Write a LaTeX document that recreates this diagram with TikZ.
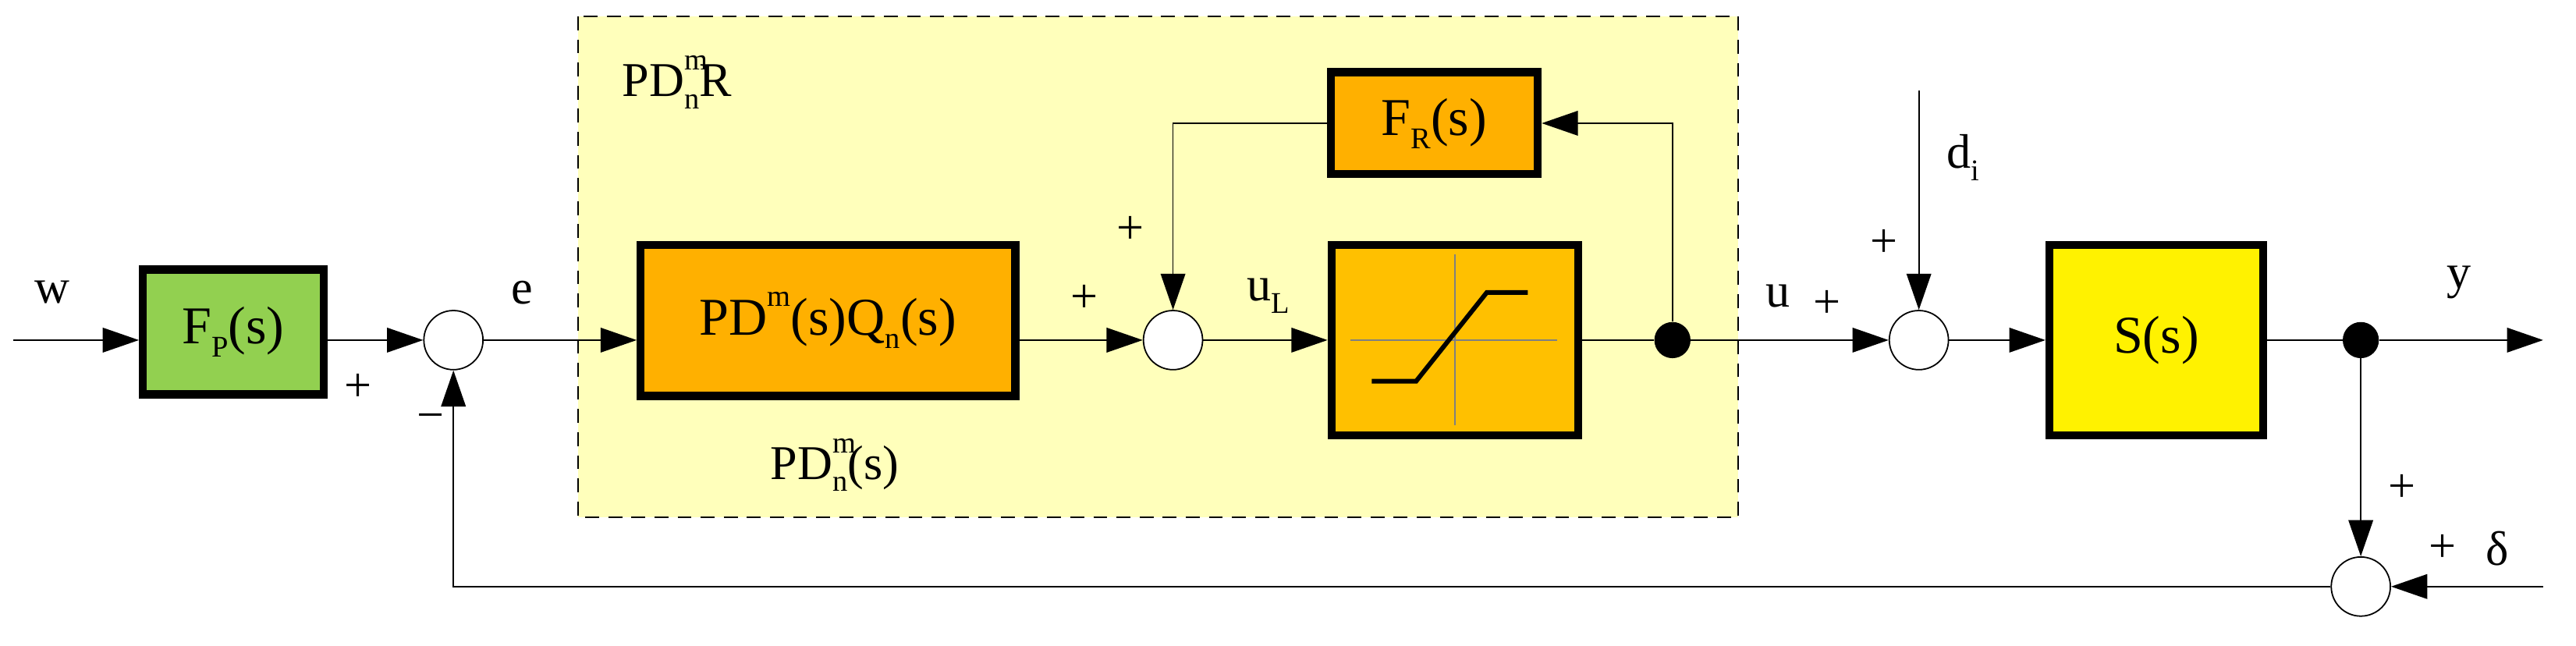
\documentclass[tikz,border=0pt]{standalone}
\usepackage{fontspec}
\setmainfont{Liberation Serif}
\usetikzlibrary{arrows.meta}
\newcommand{\smallidx}[1]{{\fontsize{26}{28}\selectfont #1}}
\newcommand{\myup}[1]{\raisebox{0.55em}{\smallidx{#1}}}
\newcommand{\mydn}[1]{\raisebox{-0.25em}{\smallidx{#1}}}
\newcommand{\subsup}[2]{\rlap{\myup{#2}}\mydn{#1}}
\begin{document}
\begin{tikzpicture}[x=0.05cm,y=-0.05cm,
  conn/.style={line width=1.2pt,-{Triangle[length=1.1cm,width=0.75cm]}},
  line/.style={line width=1.2pt},
  blk/.style={draw,line width=7pt,inner sep=0pt},
  sumj/.style={circle,draw,line width=1.2pt,fill=white,minimum size=1.8cm,inner sep=0pt},
  dotn/.style={circle,fill=black,minimum size=1.1cm,inner sep=0pt},
  big/.style={font=\fontsize{46}{50}\selectfont},
  lab/.style={font=\fontsize{42}{46}\selectfont}]
\useasboundingbox (0,0) rectangle (1568,393);
\fill[white] (0,0) rectangle (1568,393);
\draw[dash pattern=on 12pt off 8pt,line width=1.2pt,fill={rgb,255:red,255;green,255;blue,187}] (352,10) rectangle (1058,315);
\definecolor{grn}{RGB}{146,208,80}
\definecolor{org}{RGB}{255,176,0}
\definecolor{org2}{RGB}{255,192,0}
\node[blk,fill=grn,minimum width=5.5cm,minimum height=3.8cm,big] (fp) at (142,202) {F\mydn{P}(s)};
\node[blk,fill=org,minimum width=11.4cm,minimum height=4.6cm,big] (pd) at (504,195) {PD\myup{m}(s)Q\mydn{n}(s)};
\node[blk,fill=org2,minimum width=7.5cm,minimum height=5.8cm] (sat) at (885.5,207) {};
\draw[line width=1.2pt,gray] (822,207) -- (948,207) (885.5,155) -- (885.5,259);
\draw[line width=4pt] (835,232) -- (862,232) -- (905,178) -- (930,178);
\node[blk,fill=org,minimum width=6.3cm,minimum height=3.1cm,big] (fr) at (873,75) {F\mydn{R}(s)};
\node[blk,fill=yellow,minimum width=6.5cm,minimum height=5.8cm,big] (s) at (1312.5,207) {S(s)};
\node[sumj] (s1) at (276,207) {};
\node[sumj] (s2) at (714,207) {};
\node[sumj] (s3) at (1168,207) {};
\node[sumj] (s4) at (1437,357) {};
\node[dotn] (d1) at (1018,207) {};
\node[dotn] (d2) at (1437,207) {};
\coordinate (win) at (8,207);
\coordinate (yout) at (1548,207);
\coordinate (dlt) at (1548,357);
\coordinate (dii) at (1168,55);
\draw[conn] (win) -- (fp.west |- s1);
\draw[conn] (fp.east |- s1) -- (s1);
\draw[conn] (s1) -- (pd.west |- s1);
\draw[conn] (pd.east |- s2) -- (s2);
\draw[conn] (s2) -- (sat);
\draw[line] (sat) -- (d1);
\draw[conn] (d1) -- (s3);
\draw[conn] (d1) |- (fr);
\draw[conn] (fr.west) -| (s2);
\draw[conn] (dii) -- (s3);
\draw[conn] (s3) -- (s);
\draw[line] (s) -- (d2);
\draw[conn] (d2) -- (yout);
\draw[conn] (d2) -- (s4);
\draw[conn] (dlt) -- (s4);
\draw[conn] (s4) -| (s1);
\node[lab] at (32,178) {w};
\node[lab] at (218,236) {+};
\node[lab] at (262,257) {−};
\node[lab] at (318,178) {e};
\node[lab] at (508,283) {PD\subsup{n}{m}(s)};
\node[lab] at (412,50) {PD\subsup{n}{m}R};
\node[lab] at (660,182) {+};
\node[lab] at (688,140) {+};
\node[lab] at (772,180) {u\mydn{L}};
\node[lab] at (1082,180) {u};
\node[lab] at (1112,185) {+};
\node[lab] at (1195,96) {d\mydn{i}};
\node[lab] at (1147,148) {+};
\node[lab] at (1497,172) {y};
\node[lab] at (1462,297) {+};
\node[lab] at (1487,334) {+};
\node[lab] at (1520,334) {δ};
\end{tikzpicture}
\end{document}
